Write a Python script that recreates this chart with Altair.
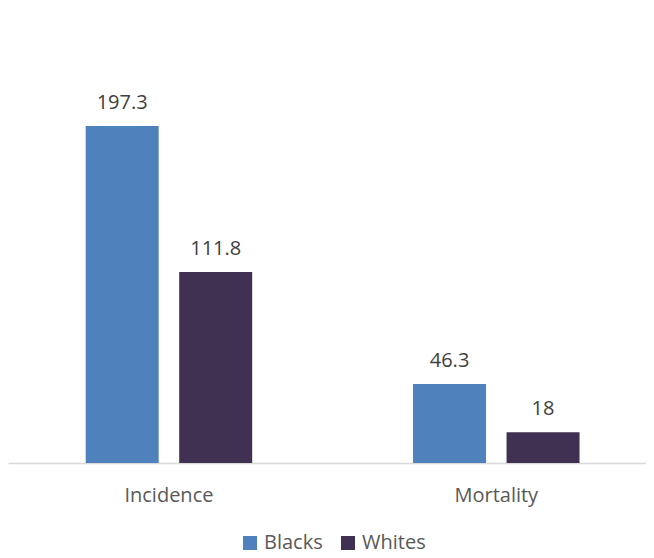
import altair as alt
import pandas as pd

categories = ["Incidence", "Incidence", "Mortality", "Mortality"]
groups = ["Blacks", "Whites", "Blacks", "Whites"]
values = [197.3, 111.8, 46.3, 18]

group_order = ["Blacks", "Whites"]
group_colors = ["#4f81bd", "#403152"]

df = pd.DataFrame({"category": categories, "group": groups, "value": values})

FONT = "Open Sans"

x_scale = alt.Scale(paddingInner=0.1, paddingOuter=0.0245, align=0.85)
xoff_scale = alt.Scale(paddingInner=0.2193, paddingOuter=0.685)
y_scale = alt.Scale(domain=[0, 266.4], nice=False)

x_enc = alt.X("category:N", title=None, scale=x_scale,
              axis=alt.Axis(labelAngle=0, ticks=False, labelPadding=22,
                            labelFontSize=20, labelColor="#595959", labelFont=FONT,
                            labelFontWeight="normal",
                            domainColor="#d9d9d9", domainWidth=1.5, grid=False))
xoff = alt.XOffset("group:N", sort=group_order, scale=xoff_scale)
y_enc = alt.Y("value:Q", title=None, scale=y_scale, axis=None)

bars = alt.Chart(df).mark_bar(size=73).encode(
    x=x_enc,
    xOffset=xoff,
    y=y_enc,
    color=alt.Color("group:N", sort=group_order,
                    scale=alt.Scale(domain=group_order, range=group_colors),
                    legend=alt.Legend(title=None, orient="none", direction="horizontal",
                                      legendX=232, legendY=525,
                                      symbolType="square", symbolSize=196,
                                      symbolStrokeWidth=0, labelFontSize=20,
                                      labelFont=FONT, labelColor="#595959",
                                      labelOffset=4, columnPadding=15, padding=0)),
)

labels = alt.Chart(df).mark_text(baseline="alphabetic", dy=-17, fontSize=20,
                                 font=FONT, color="#404040").encode(
    x=alt.X("category:N", scale=x_scale),
    xOffset=alt.XOffset("group:N", sort=group_order, scale=xoff_scale),
    y=alt.Y("value:Q", scale=y_scale),
    text=alt.Text("value:Q"),
)

chart = alt.layer(bars, labels).properties(
    width=638, height=455,
    padding={"left": 0, "top": 0, "right": 0, "bottom": -3},
).configure(background="white").configure_view(stroke=None)

chart.save("out.html", embed_options={"renderer": "svg", "actions": False})
